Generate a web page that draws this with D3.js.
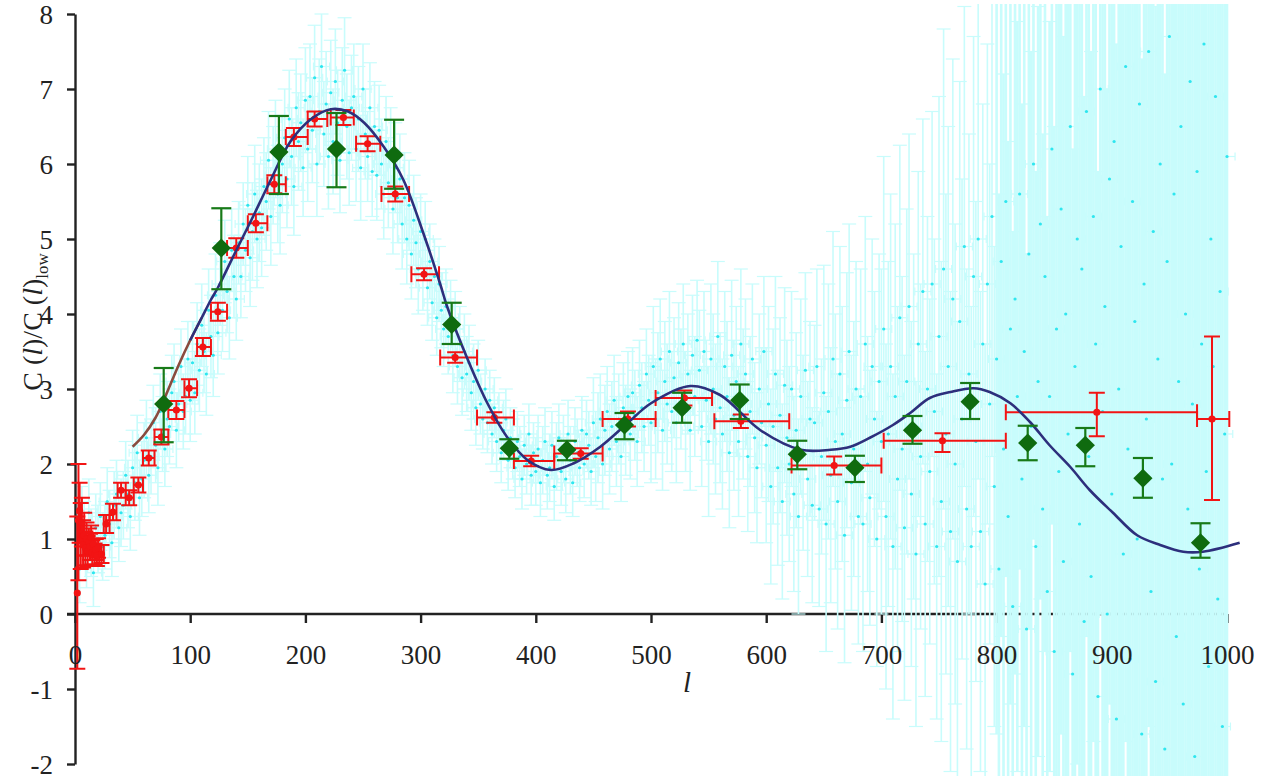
<!DOCTYPE html>
<html>
<head>
<meta charset="utf-8">
<script src="https://cdn.jsdelivr.net/npm/d3@7"></script>
<style>
  body { margin: 0; background: #fff; }
  svg { display: block; }
  .tick text { font-family: "Liberation Serif", "Times New Roman", serif; font-size: 27px; fill: #222; }
  .tick line { stroke: #222; stroke-width: 2.4; }
  .serif { font-family: "Liberation Serif", "Times New Roman", serif; fill: #222; }
</style>
</head>
<body>
<div id="chart"></div>
<script>
// unbinned spectrum, one value every 2 in l starting at l = 2
const cyanVals = [
  1.1, 0.6, 1.25, 1.05, 0.8, 1.35, 0.95, 0.55, 1.15, 1.0,
  1.3, 0.9, 1.05, 1.5, 1.2, 0.95, 1.45, 1.6, 1.15, 1.35,
  1.45, 1.85, 1.6, 1.3, 1.95, 1.75, 2.15, 1.55, 1.8, 2.05,
  2.35, 1.85, 2.1, 2.55, 2.25, 1.95, 2.7, 2.4, 2.2, 2.6,
  2.5, 2.95, 3.1, 2.45, 2.8, 3.3, 2.7, 2.9, 3.4, 2.85,
  3.35, 2.95, 3.6, 3.25, 3.85, 3.5, 3.2, 4.05, 3.7, 3.45,
  4.25, 3.75, 4.4, 4.05, 4.7, 4.3, 3.95, 4.85, 4.5, 4.2,
  4.95, 4.5, 5.2, 4.85, 5.45, 4.75, 5.1, 5.6, 5.0, 5.35,
  5.15, 5.7, 5.5, 6.05, 5.3, 5.85, 6.2, 5.6, 5.45, 6.0,
  6.35, 5.8, 6.6, 6.1, 5.7, 6.75, 6.3, 6.55, 5.95, 6.85,
  6.2, 6.9, 6.45, 7.15, 6.0, 6.7, 7.3, 6.4, 6.8, 6.1,
  6.95, 6.3, 7.1, 6.55, 6.05, 6.85, 7.25, 6.5, 6.15, 6.75,
  6.9, 6.2, 6.6, 5.95, 7.0, 6.4, 6.1, 6.75, 5.9, 6.5,
  5.85, 6.45, 6.0, 5.6, 6.3, 5.75, 6.15, 5.4, 5.95, 5.55,
  5.8, 5.2, 5.55, 5.0, 5.45, 4.8, 5.25, 4.95, 4.6, 5.1,
  4.55, 5.0, 4.35, 4.7, 4.15, 4.5, 3.95, 4.4, 4.05, 3.8,
  4.1, 3.7, 3.95, 3.45, 3.8, 3.3, 3.6, 3.15, 3.5, 3.2,
  3.35, 2.95, 3.1, 2.75, 3.25, 2.8, 2.6, 3.0, 2.55, 2.85,
  2.4, 2.75, 2.3, 2.55, 2.15, 2.45, 2.6, 2.05, 2.35, 2.2,
  1.95, 2.3, 2.1, 1.8, 2.25, 2.0, 2.4, 1.85, 2.15, 1.9,
  2.2, 1.75, 2.05, 2.3, 1.85, 1.95, 2.25, 1.7, 2.1, 2.35,
  1.9, 2.2, 1.8, 2.4, 2.05, 1.75, 2.3, 2.15, 1.95, 2.45,
  2.0, 2.4, 2.25, 1.9, 2.55, 2.1, 2.35, 2.6, 2.0, 2.45,
  2.7, 2.2, 2.5, 2.85, 2.3, 2.6, 2.1, 2.75, 2.45, 2.9,
  2.4, 2.95, 2.65, 2.3, 3.05, 2.75, 2.5, 3.2, 2.85, 2.55,
  3.3, 2.6, 2.95, 3.4, 2.45, 3.1, 2.8, 3.5, 2.7, 3.15,
  2.55, 3.35, 3.0, 3.6, 2.7, 3.2, 2.45, 3.45, 2.9, 3.65,
  3.25, 2.5, 3.5, 2.85, 2.3, 3.4, 3.0, 2.6, 3.7, 2.75,
  2.4, 3.3, 2.9, 2.15, 3.45, 2.65, 3.1, 2.3, 3.6, 2.8,
  3.2, 2.1, 2.7, 3.4, 2.35, 1.95, 3.0, 2.55, 3.5, 2.25,
  2.8, 1.7, 2.5, 3.2, 1.95, 2.65, 1.5, 3.05, 2.35, 2.0,
  3.0, 1.6, 2.45, 1.3, 2.9, 2.15, 3.25, 1.8, 2.6, 1.45,
  2.55, 3.3, 1.4, 2.1, 2.95, 1.2, 2.7, 1.85, 3.4, 2.3,
  1.5, 3.2, 2.4, 1.05, 2.85, 3.5, 1.75, 2.2, 3.0, 1.3,
  2.9, 1.2, 3.6, 2.0, 1.55, 3.3, 2.6, 1.0, 3.1, 2.3,
  3.8, 1.3, 2.4, 3.3, 0.9, 2.9, 1.8, 3.95, 2.2, 1.15,
  3.1, 4.1, 1.6, 2.5, 0.8, 3.6, 2.1, 4.3, 1.2, 3.0,
  1.9, 4.4, 2.7, 0.9, 3.7, 1.5, 4.6, 2.4, 3.3, 1.1,
  4.2, 2.0, 0.7, 3.9, 2.6, 4.9, 1.4, 3.2, 0.9, 4.5,
  2.3, 5.0, 1.1, 3.6, 0.4, 4.4, 2.8, 5.3, 1.7, 3.4,
  0.6, 4.7, 2.2, 5.5, 1.3, 3.8, 0.1, 4.2, 2.9, 5.6,
  1.8, 3.5, -0.2, 4.8, 2.5, 6.0, 0.9, 3.1, 5.2, 1.4,
  4.5, 0.3, 2.9, 6.2, -0.5, 3.8, 1.9, 5.4, 0.7, 4.0,
  2.4, 6.5, -0.8, 3.3, 5.0, 1.2, 4.6, -0.1, 6.7, 2.1,
  0.5, 5.3, 3.6, -1.1, 7.0, 2.7, 4.1, 0.0, 5.8, 1.6,
  6.3, -1.4, 3.0, 4.9, 0.8, 7.3, 2.2, -0.6, 5.5, 3.9,
  1.0, 6.8, -1.6, 4.4, 2.6, 7.5, 0.3, 5.1, -0.9, 3.4,
  6.0, 1.8, -1.8, 4.7, 7.7, 2.0, 5.6, -0.3, 3.1, 6.5,
  -1.2, 4.0, 1.4, 7.1, 2.8, -1.9, 5.9, 0.6, 3.6, 7.6,
  1.9, -0.7, 5.0, 3.3, 6.9, 0.2, 4.3, -1.5, 2.4, 6.1
];
// half error of the unbinned points, one entry per l band of width 50
const cyanErrBands = [0.45, 0.5, 0.55, 0.65, 0.7, 0.6, 0.5, 0.4, 0.45, 0.6,
                      0.8, 1.0, 1.3, 1.7, 2.3, 3.2, 5.0, 7.0, 9.0, 11.0];
const cyanXErr = 7;

// binned points
const redL  = [2, 3, 4, 5, 6, 7, 8, 9, 10, 11, 12, 13, 14, 15, 16, 17, 18, 19, 20,
               23, 27, 33, 40, 47, 55, 64, 75, 88, 99, 111, 124, 140, 157, 173, 190,
               208, 233, 254, 278, 303, 330, 364, 396, 439, 480, 529, 578, 659, 753, 887, 987];
const redV  = [0.28, 1.25, 1.38, 0.98, 1.22, 0.92, 1.05, 0.88, 1.0, 0.84, 0.96, 0.9, 1.02, 0.82, 0.93, 0.8, 0.86, 0.78, 0.88,
               0.8, 1.2, 1.36, 1.65, 1.55, 1.72, 2.08, 2.36, 2.72, 3.01, 3.56, 4.03, 4.88, 5.21, 5.73, 6.36,
               6.6, 6.62, 6.27, 5.6, 4.53, 3.42, 2.62, 2.04, 2.14, 2.6, 2.88, 2.57, 1.98, 2.31, 2.69, 2.6];
const redLo = [-0.73, 0.45, 0.95, 0.6, 0.9, 0.62, 0.78, 0.65, 0.78, 0.64, 0.78, 0.72, 0.85, 0.66, 0.78, 0.66, 0.72, 0.64, 0.75,
               0.68, 1.08, 1.25, 1.55, 1.45, 1.62, 1.98, 2.26, 2.6, 2.89, 3.44, 3.91, 4.75, 5.09, 5.61, 6.24,
               6.5, 6.52, 6.17, 5.5, 4.45, 3.35, 2.55, 1.97, 2.07, 2.5, 2.78, 2.48, 1.86, 2.16, 2.37, 1.52];
const redHi = [1.3, 2.0, 1.75, 1.48, 1.55, 1.25, 1.35, 1.1, 1.22, 1.04, 1.14, 1.07, 1.18, 0.98, 1.08, 0.94, 1.0, 0.92, 1.01,
               0.92, 1.32, 1.47, 1.75, 1.65, 1.82, 2.18, 2.46, 2.84, 3.13, 3.68, 4.15, 5.01, 5.33, 5.85, 6.48,
               6.7, 6.72, 6.37, 5.7, 4.61, 3.49, 2.69, 2.11, 2.21, 2.7, 2.98, 2.66, 2.1, 2.41, 2.95, 3.7];
const redBinLo = [2, 3, 4, 5, 6, 7, 8, 9, 10, 11, 12, 13, 14, 15, 16, 17, 18, 19, 20,
                  21, 25, 30, 37, 44, 51, 59, 69, 81, 95, 106, 118, 132, 150, 167, 183,
                  202, 222, 244, 266, 292, 317, 349, 381, 416, 458, 504, 555, 622, 702, 808, 974];
const redBinHi = [2, 3, 4, 5, 6, 7, 8, 9, 10, 11, 12, 13, 14, 15, 16, 17, 18, 19, 20,
                  25, 30, 36, 44, 51, 59, 69, 81, 95, 106, 118, 132, 150, 167, 183, 202,
                  219, 242, 265, 290, 316, 349, 381, 416, 458, 504, 553, 620, 700, 808, 974, 1002];

// second binned set (diamonds)
const greenL  = [77, 127, 177, 227, 277, 327, 377, 427, 477, 527, 577, 627, 677, 727, 777, 827, 877, 927, 977];
const greenV  = [2.8, 4.88, 6.16, 6.2, 6.12, 3.86, 2.21, 2.19, 2.52, 2.75, 2.85, 2.13, 1.95, 2.45, 2.83, 2.28, 2.25, 1.81, 0.95];
const greenLo = [2.29, 4.33, 5.6, 5.69, 5.67, 3.6, 2.07, 2.05, 2.33, 2.55, 2.6, 1.93, 1.76, 2.27, 2.6, 2.05, 1.97, 1.55, 0.75];
const greenHi = [3.28, 5.41, 6.64, 6.68, 6.59, 4.15, 2.33, 2.31, 2.68, 2.95, 3.06, 2.31, 2.11, 2.64, 3.08, 2.51, 2.48, 2.08, 1.21];

// model curve
const curveL = [50, 60, 70, 77, 90, 100, 110, 118, 124, 140, 153, 170, 187, 205, 222, 237, 251, 268, 285,
                303, 317, 323, 341, 358, 375, 393, 413, 433, 456, 480, 500, 534, 560, 595, 630, 656, 673,
                690, 710, 725, 742, 760, 780, 794, 812, 829, 846, 864, 881, 901, 922, 942, 962, 979, 1011];
const curveV = [2.23, 2.39, 2.62, 2.85, 3.32, 3.65, 3.95, 4.19, 4.35, 4.85, 5.25, 5.79, 6.3, 6.6, 6.73, 6.7, 6.55, 6.23, 5.79,
                5.05, 4.4, 4.1, 3.39, 2.81, 2.36, 2.05, 1.92, 2.01, 2.23, 2.55, 2.81, 3.04, 2.92, 2.45, 2.19, 2.19, 2.23,
                2.35, 2.52, 2.68, 2.88, 2.96, 3.01, 2.96, 2.81, 2.56, 2.25, 1.96, 1.65, 1.35, 1.05, 0.92, 0.83, 0.83, 0.95];
const navyStart = 100;

const xTicks = d3.range(0, 1001, 100);
const yTicks = d3.range(-2, 9, 1);

const width = 1261, height = 779;
const x = d3.scaleLinear().domain([0, 1000]).range([75, 1227]);
const y = d3.scaleLinear().domain([-2, 8]).range([764, 14]);

const svg = d3.select('#chart').append('svg')
  .attr('width', width)
  .attr('height', height);

svg.append('clipPath').attr('id', 'plotclip')
  .append('rect').attr('x', 0).attr('y', 4).attr('width', width).attr('height', 772);
svg.append('clipPath').attr('id', 'cyanclip')
  .append('rect').attr('x', 77).attr('y', 4).attr('width', width - 77).attr('height', 772);

// axis lines and ticks first, the data sits on top of them
const xAxis = d3.axisBottom(x).tickValues(xTicks).tickSize(9).tickSizeOuter(0)
  .tickPadding(22).tickFormat(d => String(d));
const gx = svg.append('g').attr('transform', `translate(0,${y(0)})`).call(xAxis);
gx.select('.domain').remove();
gx.selectAll('.tick text').remove();
gx.append('line')
  .attr('x1', 67).attr('x2', x(1000))
  .attr('stroke', '#222').attr('stroke-width', 2.4);

const yAxis = d3.axisLeft(y).tickValues(yTicks).tickSize(8).tickSizeOuter(0)
  .tickPadding(14).tickFormat(d => String(d));
const gy = svg.append('g').attr('transform', `translate(${x(0)},0)`).call(yAxis);
gy.select('.domain').attr('stroke', '#222').attr('stroke-width', 2.4);
gy.selectAll('.tick text').attr('dy', '0.36em');

// axis titles
const ytitle = svg.append('text')
  .attr('class', 'serif')
  .attr('transform', 'translate(42,322) rotate(-90)')
  .attr('text-anchor', 'middle')
  .attr('font-size', 28);
ytitle.append('tspan').text('C (');
ytitle.append('tspan').attr('font-style', 'italic').text('l');
ytitle.append('tspan').text(')/C (');
ytitle.append('tspan').attr('font-style', 'italic').text('l');
ytitle.append('tspan').text(')');
ytitle.append('tspan').attr('font-size', 17).attr('dy', 6).text('low');

svg.append('text')
  .attr('class', 'serif')
  .attr('x', 687).attr('y', 692)
  .attr('text-anchor', 'middle')
  .attr('font-style', 'italic')
  .attr('font-size', 29)
  .text('l');

// unbinned cloud
const cyan = cyanVals.map((v, i) => {
  const l = 2 + 2 * i;
  const e = cyanErrBands[Math.min(cyanErrBands.length - 1, Math.floor(l / 50))];
  return { l, v, e };
});
const cyanLine = '#c8fcfc';
const cyanPlot = svg.append('g').attr('clip-path', 'url(#cyanclip)');
const gc = cyanPlot.append('g').attr('stroke', cyanLine).attr('fill', 'none');

// very large errors merge into a solid band, so their bars are drawn wider
gc.selectAll('.cv').data(cyan).join('line')
  .attr('x1', d => x(d.l)).attr('x2', d => x(d.l))
  .attr('y1', d => y(d.v - d.e)).attr('y2', d => y(d.v + d.e))
  .attr('stroke-width', d => d.e >= 5 ? 2.6 : 1.6);

gc.selectAll('.ccap').data(cyan.flatMap(d => [d.v - d.e, d.v + d.e].map(b => ({ l: d.l, b })))).join('line')
  .attr('x1', d => x(d.l) - 7).attr('x2', d => x(d.l) + 7)
  .attr('y1', d => y(d.b)).attr('y2', d => y(d.b))
  .attr('stroke-width', 1.2);

gc.selectAll('.ch').data(cyan).join('line')
  .attr('x1', d => x(d.l - cyanXErr)).attr('x2', d => x(d.l + cyanXErr))
  .attr('y1', d => y(d.v)).attr('y2', d => y(d.v))
  .attr('stroke-width', 1.2);

gc.selectAll('.ctick').data(cyan.flatMap(d => [d.l - cyanXErr, d.l + cyanXErr].map(e => ({ e, v: d.v })))).join('line')
  .attr('x1', d => x(d.e)).attr('x2', d => x(d.e))
  .attr('y1', d => y(d.v) - 4).attr('y2', d => y(d.v) + 4)
  .attr('stroke-width', 1.2);

cyanPlot.append('g').selectAll('circle').data(cyan).join('circle')
  .attr('cx', d => x(d.l)).attr('cy', d => y(d.v))
  .attr('r', 1.6).attr('fill', '#2ee6ef');

const plot = svg.append('g').attr('clip-path', 'url(#plotclip)');

// binned points with bin widths
const red = redL.map((l, i) => ({ l, v: redV[i], lo: redLo[i], hi: redHi[i], b0: redBinLo[i], b1: redBinHi[i] }));
const redCol = '#f21414';
const gr = plot.append('g').attr('stroke', redCol).attr('stroke-width', 2).attr('fill', 'none');

gr.selectAll('.rv').data(red).join('line')
  .attr('x1', d => x(d.l)).attr('x2', d => x(d.l))
  .attr('y1', d => y(d.lo)).attr('y2', d => y(d.hi));

gr.selectAll('.rcap').data(red.flatMap(d => [d.lo, d.hi].map(b => ({ l: d.l, b })))).join('line')
  .attr('x1', d => x(d.l) - 8).attr('x2', d => x(d.l) + 8)
  .attr('y1', d => y(d.b)).attr('y2', d => y(d.b));

const redWide = red.filter(d => d.b1 - d.b0 > 2);
gr.selectAll('.rh').data(redWide).join('line')
  .attr('x1', d => x(d.b0)).attr('x2', d => x(d.b1))
  .attr('y1', d => y(d.v)).attr('y2', d => y(d.v));

gr.selectAll('.rtick').data(redWide.flatMap(d => [d.b0, d.b1].map(e => ({ e, v: d.v })))).join('line')
  .attr('x1', d => x(d.e)).attr('x2', d => x(d.e))
  .attr('y1', d => y(d.v) - 8).attr('y2', d => y(d.v) + 8);

plot.append('g').selectAll('circle').data(red).join('circle')
  .attr('cx', d => x(d.l)).attr('cy', d => y(d.v))
  .attr('r', 3.6).attr('fill', redCol);

// model curve: brown below l=100, navy above
const curve = curveL.map((l, i) => ({ l, v: curveV[i] }));
const line = d3.line().x(d => x(d.l)).y(d => y(d.v)).curve(d3.curveCatmullRom);

plot.append('path').datum(curve.filter(d => d.l <= 110))
  .attr('d', line).attr('fill', 'none')
  .attr('stroke', '#8a4b3e').attr('stroke-width', 2.6);

plot.append('path').datum(curve.filter(d => d.l >= navyStart))
  .attr('d', line).attr('fill', 'none')
  .attr('stroke', '#2d2f7c').attr('stroke-width', 2.6);

// diamonds
const green = greenL.map((l, i) => ({ l, v: greenV[i], lo: greenLo[i], hi: greenHi[i] }));
const greenCol = '#187a18';
const gg = plot.append('g').attr('stroke', greenCol).attr('stroke-width', 2.2).attr('fill', 'none');

gg.selectAll('.gv').data(green).join('line')
  .attr('x1', d => x(d.l)).attr('x2', d => x(d.l))
  .attr('y1', d => y(d.lo)).attr('y2', d => y(d.hi));

gg.selectAll('.gcap').data(green.flatMap(d => [d.lo, d.hi].map(b => ({ l: d.l, b })))).join('line')
  .attr('x1', d => x(d.l) - 10).attr('x2', d => x(d.l) + 10)
  .attr('y1', d => y(d.b)).attr('y2', d => y(d.b));

plot.append('g').selectAll('path').data(green).join('path')
  .attr('d', d3.symbol(d3.symbolSquare, 185))
  .attr('transform', d => `translate(${x(d.l)},${y(d.v)}) rotate(45)`)
  .attr('fill', '#0f6b0f');

// x tick labels go on top of the cloud
const gxLabels = svg.append('g').attr('transform', `translate(0,${y(0)})`).call(xAxis);
gxLabels.select('.domain').remove();
gxLabels.selectAll('.tick line').remove();
</script>
</body>
</html>
